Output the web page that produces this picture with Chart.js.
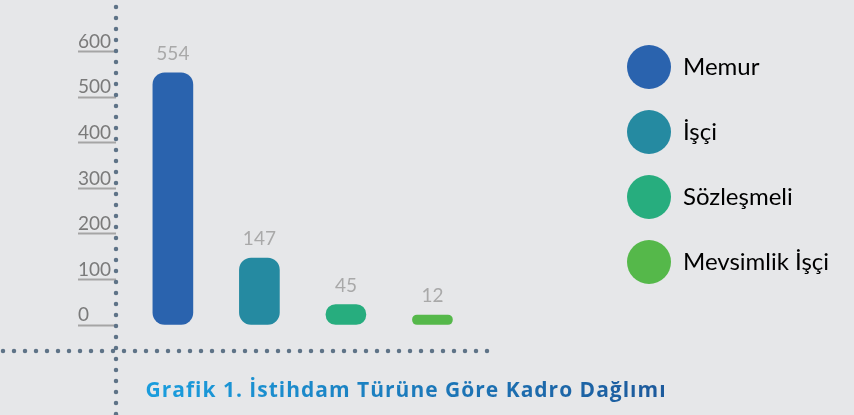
<!DOCTYPE html>
<html lang="tr">
<head>
<meta charset="utf-8">
<title>Grafik 1. İstihdam Türüne Göre Kadro Dağlımı</title>
<script src="https://cdn.jsdelivr.net/npm/chart.js@4.4.1/dist/chart.umd.min.js"></script>
<style>
    html, body { margin: 0; padding: 0; background: #e6e7e9; }
    #wrap { position: relative; width: 854px; height: 415px; overflow: hidden; }
    #kadroChart { position: absolute; left: 0; top: 0; }
    #chart-title {
        position: absolute; left: 0; top: 375px; width: 812px;
        text-align: center; font: 700 21px "Open Sans", sans-serif;
        letter-spacing: 1px;
        background: linear-gradient(90deg, #1a9cdc 20%, #1d5b9d 80%);
        -webkit-background-clip: text; background-clip: text; color: transparent;
    }
</style>
</head>
<body>
<div id="wrap">
    <canvas id="kadroChart" width="854" height="415"></canvas>
    <div id="chart-title">Grafik 1. İstihdam Türüne Göre Kadro Dağlımı</div>
</div>
<script>
// Chart data
const categories = ["Memur", "İşçi", "Sözleşmeli", "Mevsimlik İşçi"];
const staffCounts = [554, 147, 45, 12];
const yTickValues = [0, 100, 200, 300, 400, 500, 600];

const barColors = ["#2a63ae", "#258aa1", "#27ad7e", "#55b84a"];
const DOT_COLOR = "#5e7387";
const LEGEND_FONT_SIZE = 24;
const LEGEND_PAD = 21;

// measure the widest legend text so the legend lands where it should
function widestLabel() {
    const c = document.createElement("canvas").getContext("2d");
    c.font = LEGEND_FONT_SIZE + "px Lato";
    return Math.max(...categories.map(t => c.measureText(t).width));
}
const legendWidth = LEGEND_PAD + 44 + LEGEND_FONT_SIZE / 2 + widestLabel() + 10;
const rightPad = Math.max(0, 854 - 606 - legendWidth);

// dotted axis lines (round dots)
const dottedAxes = {
    id: "dottedAxes",
    afterDraw(chart) {
        const ctx = chart.ctx;
        const x0 = chart.scales.y.right;
        const y0 = chart.scales.y.getPixelForValue(0) + 26;
        ctx.save();
        ctx.strokeStyle = DOT_COLOR;
        ctx.lineWidth = 4.5;
        ctx.lineCap = "round";
        ctx.setLineDash([0, 11]);
        ctx.beginPath();
        ctx.moveTo(x0, 7);
        ctx.lineTo(x0, 415);
        ctx.moveTo(3, y0);
        ctx.lineTo(490, y0);
        ctx.stroke();
        ctx.restore();
    }
};

// numbers above the bars
const valueLabels = {
    id: "valueLabels",
    afterDatasetsDraw(chart) {
        const ctx = chart.ctx;
        const meta = chart.getDatasetMeta(0);
        ctx.save();
        ctx.font = "19px Lato";
        ctx.fillStyle = "#a9a9a9";
        ctx.textAlign = "center";
        ctx.textBaseline = "middle";
        meta.data.forEach((bar, i) => {
            ctx.fillText(staffCounts[i], bar.x, bar.y - 19);
        });
        ctx.restore();
    }
};

new Chart(document.getElementById("kadroChart"), {
    type: "bar",
    data: {
        datasets: [{
            label: "Kadro",
            data: staffCounts.map((v, i) => ({ x: i, y: v })),
            backgroundColor: barColors,
            borderWidth: 0,
            borderRadius: 12,
            borderSkipped: false,
            barThickness: 40,
            minBarLength: 10
        }]
    },
    options: {
        responsive: false,
        animation: false,
        layout: { padding: { top: 24, bottom: 90, left: 0, right: rightPad } },
        plugins: {
            tooltip: { enabled: false },
            legend: {
                position: "right",
                align: "start",
                maxWidth: 400,
                labels: {
                    boxWidth: 44,
                    boxHeight: 44,
                    padding: LEGEND_PAD,
                    color: "#828282",
                    font: { family: "Lato", size: LEGEND_FONT_SIZE },
                    generateLabels: () => categories.map((name, i) => ({
                        text: name,
                        fillStyle: barColors[i],
                        strokeStyle: barColors[i],
                        lineWidth: 0,
                        borderRadius: 22,
                        hidden: false,
                        index: i
                    }))
                }
            }
        },
        scales: {
            x: {
                type: "linear",
                offset: false,
                min: -0.6574,
                max: 5.006,
                display: false
            },
            y: {
                min: 0,
                max: 661,
                afterBuildTicks: scale => { scale.ticks = yTickValues.map(v => ({ value: v })); },
                afterFit: scale => { scale.width = 116; },
                border: { display: false },
                grid: {
                    drawOnChartArea: false,
                    drawTicks: true,
                    tickLength: 38,
                    tickColor: "#a5a5a5",
                    tickWidth: 2
                },
                ticks: {
                    mirror: true,
                    padding: -38,
                    labelOffset: -10,
                    color: "#7a7a7a",
                    font: { family: "Lato", size: 19 }
                }
            }
        }
    },
    plugins: [dottedAxes, valueLabels]
});
</script>
</body>
</html>
